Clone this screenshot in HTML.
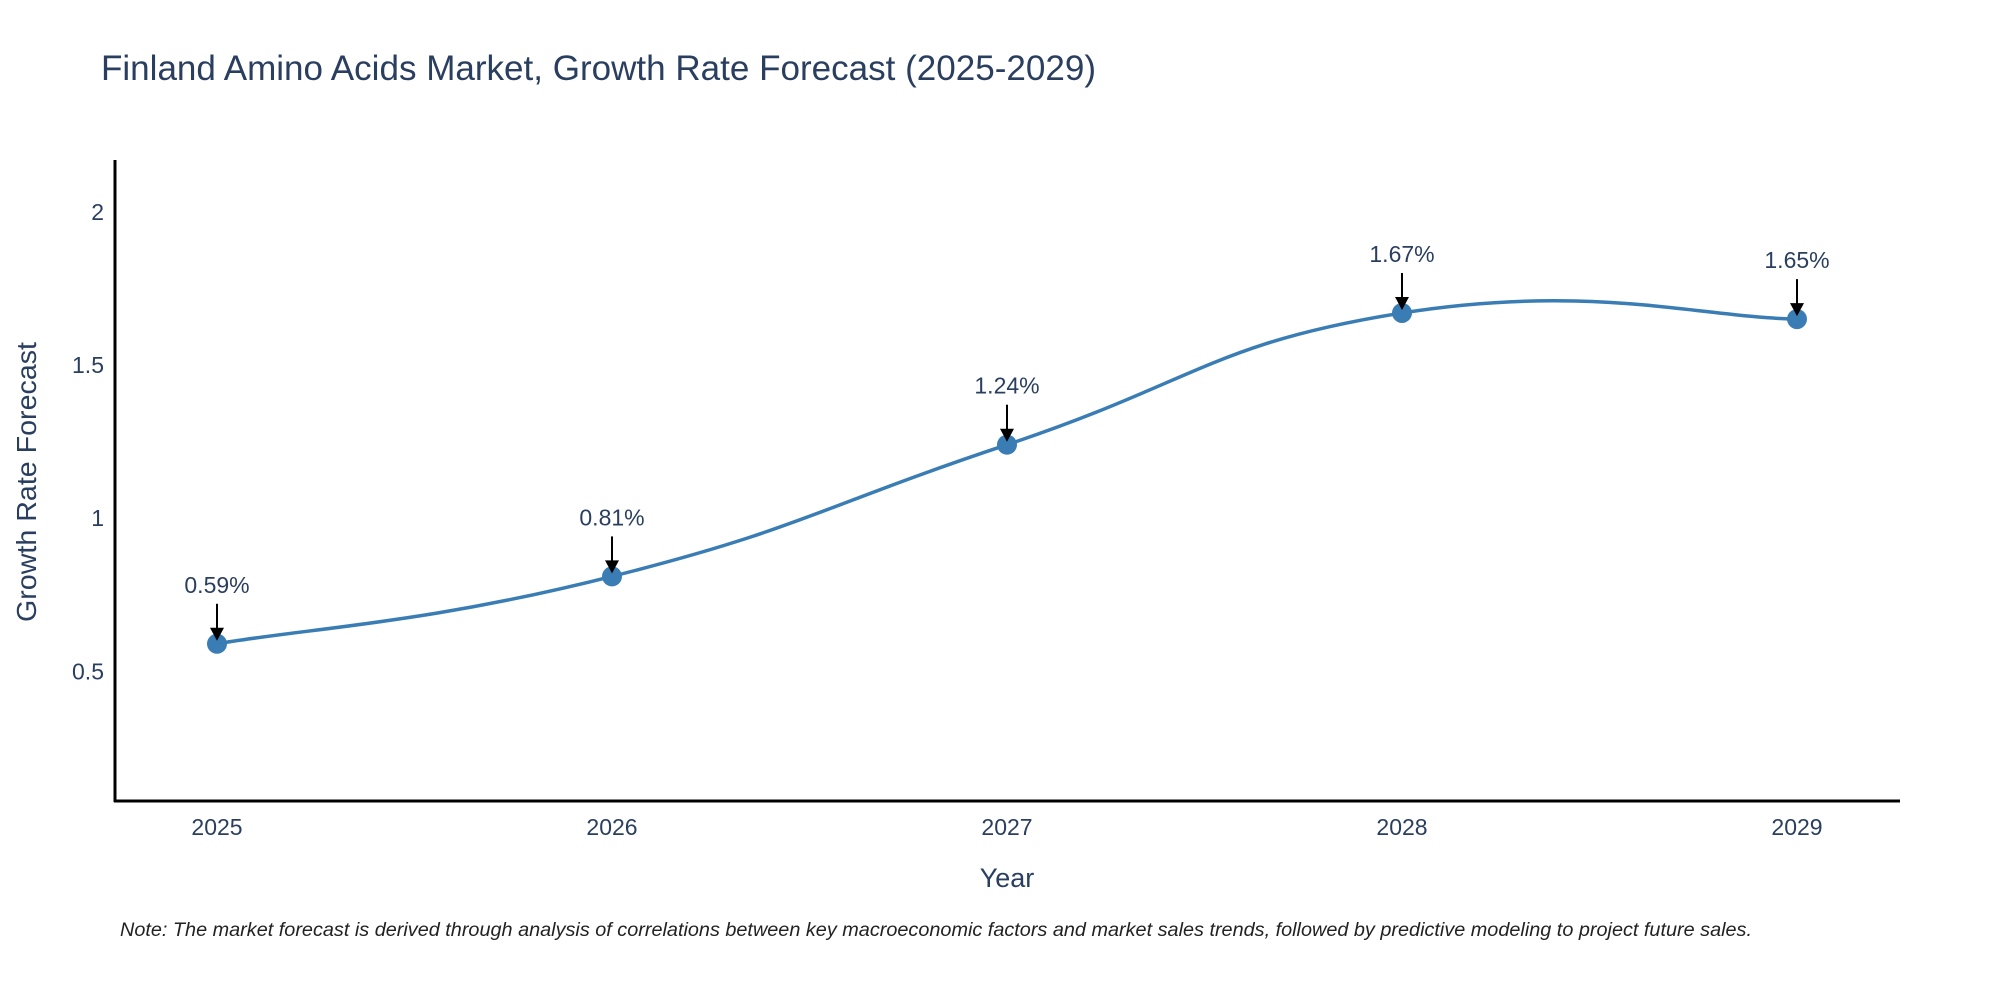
<!DOCTYPE html>
<html><head><meta charset="utf-8"><style>
html,body{margin:0;padding:0;background:#fff;}
svg{display:block;font-family:"Liberation Sans",sans-serif;}
</style></head><body>
<svg id="chart" width="2000" height="1000" viewBox="0 0 2000 1000" xmlns="http://www.w3.org/2000/svg">
<text x="101" y="80" font-size="35" fill="#2a3f5f" textLength="995" lengthAdjust="spacingAndGlyphs">Finland Amino Acids Market, Growth Rate Forecast (2025-2029)</text>
<g id="yticks"></g>
<g id="xticks"></g>
<line x1="115" y1="160" x2="115" y2="802" stroke="#000" stroke-width="3"/>
<line x1="114" y1="801" x2="1900" y2="801" stroke="#000" stroke-width="3"/>
<path id="line" fill="none" stroke="#3a7db5" stroke-width="3.5"/>
<g id="points"></g>
<g id="annots"></g>
<text x="1007" y="887" font-size="27" fill="#2a3f5f" text-anchor="middle">Year</text>
<text transform="translate(36,482) rotate(-90)" font-size="28" fill="#2a3f5f" text-anchor="middle" textLength="280" lengthAdjust="spacingAndGlyphs">Growth Rate Forecast</text>
<text x="120" y="936" font-size="19" font-style="italic" fill="#222" textLength="1632" lengthAdjust="spacingAndGlyphs">Note: The market forecast is derived through analysis of correlations between key macroeconomic factors and market sales trends, followed by predictive modeling to project future sales.</text>
</svg>
<script>
const years = [2025, 2026, 2027, 2028, 2029];
const values = [0.59, 0.81, 1.24, 1.67, 1.65];
const labels = ["0.59%", "0.81%", "1.24%", "1.67%", "1.65%"];
const yTicks = [0.5, 1, 1.5, 2];
const yTickLabels = ["0.5", "1", "1.5", "2"];

const NS = "http://www.w3.org/2000/svg";
function xScale(yr){ return 217 + (yr - 2025) * 395; }
function yScale(v){ return 824.5 - 306.3 * v; }
function mk(tag, attrs, parent){ const e=document.createElementNS(NS,tag); for(const k in attrs) e.setAttribute(k,attrs[k]); parent.appendChild(e); return e; }

const yt=document.getElementById('yticks');
yTicks.forEach((t,i)=>{
  const e=mk('text',{x:104,y:yScale(t)+8,'font-size':23,fill:'#2a3f5f','text-anchor':'end'},yt);
  
  
  e.textContent=yTickLabels[i];
});
const xt=document.getElementById('xticks');
years.forEach(yr=>{
  const e=mk('text',{x:xScale(yr),y:835,'font-size':23,fill:'#2a3f5f','text-anchor':'middle'},xt);
  
  
  e.textContent=String(yr);
});

const pts=years.map((yr,i)=>[xScale(yr),yScale(values[i])]);
let d='M'+pts[0][0]+','+pts[0][1];
const k=0.24;
for(let i=0;i<pts.length-1;i++){
  const p0=pts[Math.max(0,i-1)],p1=pts[i],p2=pts[i+1],p3=pts[Math.min(pts.length-1,i+2)];
  const c1=[p1[0]+(p2[0]-p0[0])*k,p1[1]+(p2[1]-p0[1])*k];
  const c2=[p2[0]-(p3[0]-p1[0])*k,p2[1]-(p3[1]-p1[1])*k];
  d+=' C'+c1[0]+','+c1[1]+' '+c2[0]+','+c2[1]+' '+p2[0]+','+p2[1];
}
document.getElementById('line').setAttribute('d',d);

const pg=document.getElementById('points');
const ag=document.getElementById('annots');
pts.forEach((p,i)=>{
  const c=mk('circle',{cx:p[0],cy:p[1],r:10,fill:'#3a7db5'},pg);
  
  
  const l=mk('line',{x1:p[0],y1:p[1]-40,x2:p[0],y2:p[1]-12,stroke:'#000','stroke-width':2},ag);
  
  
  const h=mk('polygon',{points:(p[0]-7)+','+(p[1]-16)+' '+(p[0]+7)+','+(p[1]-16)+' '+p[0]+','+(p[1]-3),fill:'#000'},ag);
  
  
  const t=mk('text',{x:p[0],y:p[1]-51,'font-size':23,fill:'#2a3f5f','text-anchor':'middle'},ag);
  
  
  t.textContent=labels[i];
});
</script>
</body></html>
